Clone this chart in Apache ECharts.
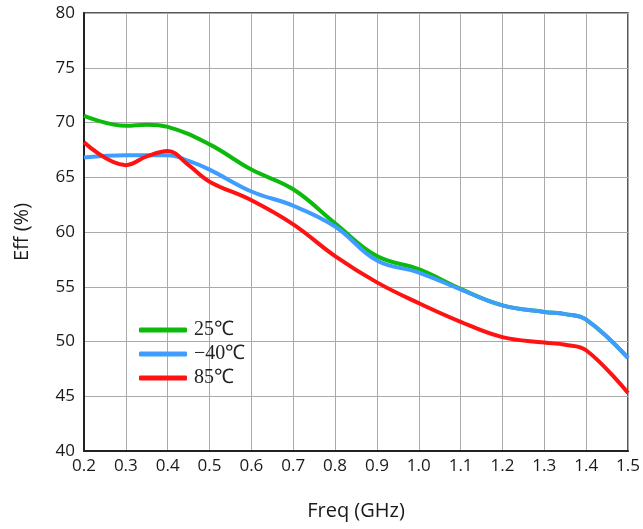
<!DOCTYPE html>
<html>
<head>
<meta charset="utf-8">
<script src="https://cdn.jsdelivr.net/npm/echarts@6/dist/echarts.min.js"></script>
<style>
  html, body { margin: 0; padding: 0; background: #fff; }
  #chart { width: 643px; height: 529px; }
</style>
</head>
<body>
<div id="chart"></div>
<script>
// Efficiency vs frequency at three temperatures
const freq25 = [0.2, 0.3, 0.35, 0.4, 0.5, 0.6, 0.7, 0.8, 0.9, 1.0, 1.1, 1.2, 1.3, 1.35, 1.4, 1.5];
const eff25  = [70.6, 69.7, 69.8, 69.6, 68.0, 65.7, 63.9, 60.8, 57.8, 56.6, 54.8, 53.3, 52.7, 52.5, 52.0, 48.5];

const freqM40 = [0.2, 0.3, 0.4, 0.45, 0.5, 0.6, 0.7, 0.8, 0.9, 1.0, 1.1, 1.2, 1.3, 1.35, 1.4, 1.5];
const effM40  = [66.8, 67.0, 67.0, 66.5, 65.7, 63.7, 62.4, 60.5, 57.4, 56.3, 54.75, 53.3, 52.7, 52.5, 52.0, 48.5];

const freq85 = [0.2, 0.3, 0.35, 0.4, 0.45, 0.5, 0.6, 0.7, 0.8, 0.9, 1.0, 1.1, 1.2, 1.3, 1.35, 1.4, 1.5];
const eff85  = [68.2, 66.1, 66.9, 67.4, 66.1, 64.6, 62.9, 60.7, 57.8, 55.4, 53.5, 51.8, 50.4, 49.9, 49.7, 49.2, 45.3];

const seriesNames = ['25℃', '−40℃', '85℃'];
const seriesColors = ['#0cba0c', '#3f9dff', '#ff1212'];

const pair = (xs, ys) => xs.map((x, i) => [x, ys[i]]);

const chart = echarts.init(document.getElementById('chart'));
chart.setOption({
  animation: false,
  backgroundColor: '#fff',
  grid: {
    left: 84, right: 15, top: 13, bottom: 78,
    show: true, borderColor: '#222', borderWidth: 1.5
  },
  legend: {
    orient: 'vertical',
    left: 134, top: 315,
    itemWidth: 48, itemHeight: 5, itemGap: 4,
    icon: 'roundRect',
    textStyle: { fontFamily: 'Liberation Serif', fontSize: 20, color: '#222', padding: [0, 0, 0, 2] },
    data: seriesNames
  },
  xAxis: {
    type: 'value', min: 0.2, max: 1.5, interval: 0.1,
    name: 'Freq (GHz)', nameLocation: 'middle', nameGap: 50,
    nameTextStyle: { fontFamily: 'Open Sans', fontSize: 20, color: '#1a1a1a' },
    axisLine: { show: true, lineStyle: { color: '#222', width: 2 } },
    axisTick: { show: false },
    axisLabel: { fontFamily: 'Open Sans', fontSize: 17, color: '#1a1a1a', margin: 7,
      formatter: v => v.toFixed(1) },
    splitLine: { show: true, lineStyle: { color: '#aaaaaa', width: 1 } }
  },
  yAxis: {
    type: 'value', min: 40, max: 80, interval: 5,
    name: 'Eff (%)', nameLocation: 'middle', nameGap: 52, nameRotate: 90,
    nameTextStyle: { fontFamily: 'Open Sans', fontSize: 20, color: '#1a1a1a' },
    axisLine: { show: true, lineStyle: { color: '#222', width: 2 } },
    axisTick: { show: false },
    axisLabel: { fontFamily: 'Open Sans', fontSize: 17, color: '#1a1a1a', margin: 9 },
    splitLine: { show: true, lineStyle: { color: '#aaaaaa', width: 1 } }
  },
  series: [
    { name: seriesNames[0], data: pair(freq25, eff25) },
    { name: seriesNames[1], data: pair(freqM40, effM40) },
    { name: seriesNames[2], data: pair(freq85, eff85) }
  ].map((s, i) => Object.assign(s, {
    type: 'line', smooth: 0.4, showSymbol: false, symbol: 'none',
    color: seriesColors[i], z: 2 + i,
    lineStyle: { width: 4, color: seriesColors[i] }
  }))
});
</script>
</body>
</html>
